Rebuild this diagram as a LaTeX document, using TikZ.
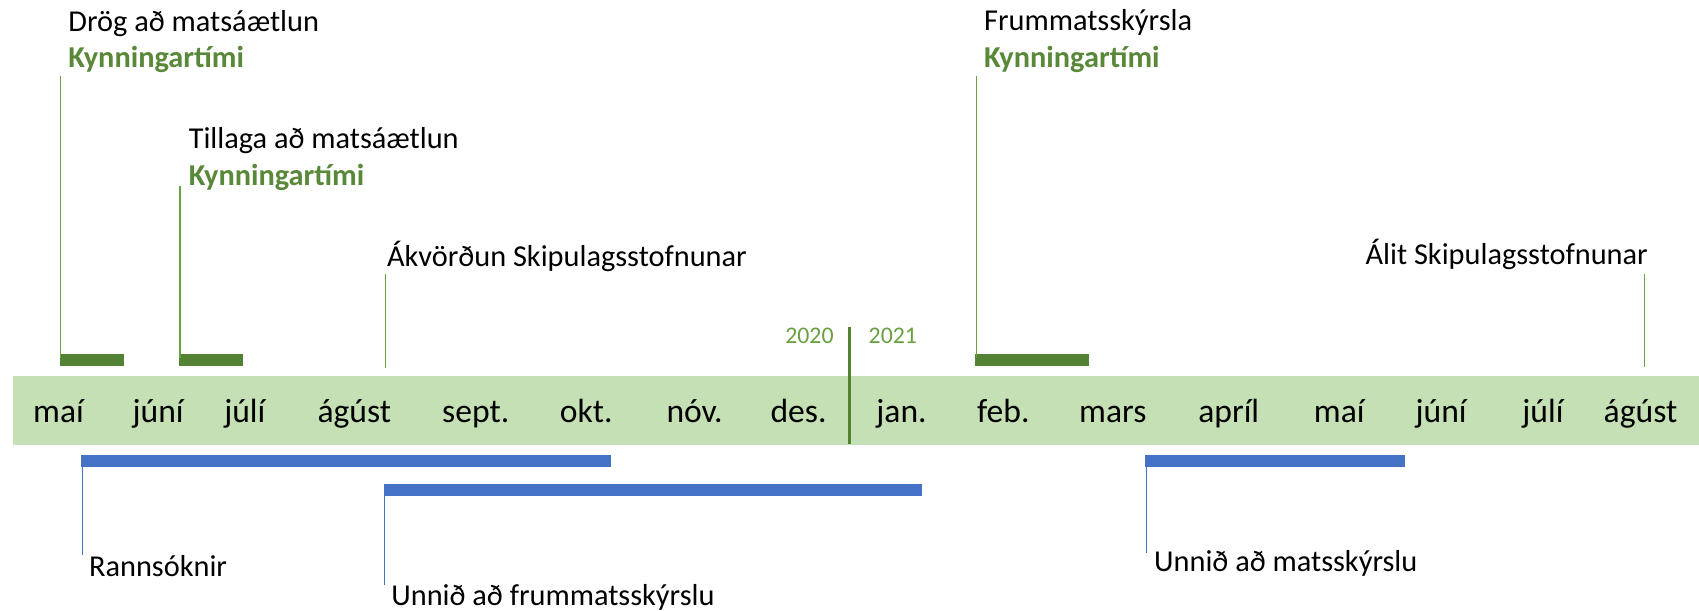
\documentclass[tikz,border=0pt]{standalone}
\usepackage{fontspec}
\setmainfont{Carlito}
\definecolor{band}{HTML}{C5E0B4}
\definecolor{dgreen}{HTML}{548235}
\definecolor{lgreen}{HTML}{70AD47}
\definecolor{blue1}{HTML}{4472C4}
\begin{document}
\begin{tikzpicture}[x=1pt,y=-1pt,
  lbl/.style={anchor=base west,inner sep=0pt,font=\fontsize{28}{30}\selectfont},
  kyn/.style={anchor=base west,inner sep=0pt,text=dgreen!85!lgreen,font=\fontsize{28}{30}\selectfont\bfseries},
  month/.style={anchor=base,inner sep=0pt,font=\fontsize{31}{33}\selectfont},
  year/.style={anchor=base,inner sep=0pt,text=lgreen!70!dgreen,font=\fontsize{22}{24}\selectfont},
  gline/.style={draw=lgreen!70!dgreen,line width=1.2pt},
  gbar/.style={fill=dgreen,draw=none},
  bline/.style={draw=blue1,line width=1.2pt},
  bbar/.style={fill=blue1,draw=none}]
\useasboundingbox (0,0) rectangle (1568,563);
% band
\fill[band] (12,347) rectangle (1568,411);
% months
\foreach \x/\m in {54/maí,146/júní,226/júlí,327/ágúst,439/sept.,541/okt.,641/nóv.,737/des.,832/jan.,926/feb.,1027/mars,1134/apríl,1236/maí,1330/júní,1424/júlí,1514/ágúst}
  \node[month] at (\x,390) {\m};
% year divider
\draw[dgreen,line width=2.5pt] (784,302) -- (784,410);
\node[year] (y0) at (747,317) {2020};
\node[year] (y1) at (824,317) {2021};
% green callouts
\node[lbl] (t1) at (63,29) {Drög að matsáætlun};
\node[kyn] (k1) at (63,62) {Kynningartími};
\fill[gbar] (55,327) rectangle (114,338);
\coordinate (a1) at (56,70); \coordinate (b1) at (56,330);
\draw[gline] (a1) -- (b1);

\node[lbl] (t2) at (174,137) {Tillaga að matsáætlun};
\node[kyn] (k2) at (174,171) {Kynningartími};
\fill[gbar] (165,327) rectangle (224,338);
\coordinate (a2) at (166,172); \coordinate (b2) at (166,330);
\draw[gline] (a2) -- (b2);

\node[lbl] (t3) at (357,246) {Ákvörðun Skipulagsstofnunar};
\coordinate (a3) at (356,253); \coordinate (b3) at (356,340);
\draw[gline] (a3) -- (b3);

\node[lbl] (t4) at (908,28) {Frummatsskýrsla};
\node[kyn] (k4) at (908,62) {Kynningartími};
\fill[gbar] (900,327) rectangle (1005,338);
\coordinate (a4) at (901,70); \coordinate (b4) at (901,330);
\draw[gline] (a4) -- (b4);

\node[lbl,anchor=base east] (t5) at (1521,244) {Álit Skipulagsstofnunar};
\coordinate (a5) at (1518,253); \coordinate (b5) at (1518,339);
\draw[gline] (a5) -- (b5);

% blue callouts
\fill[bbar] (75,420) rectangle (564,431);
\coordinate (c1) at (76,425); \coordinate (d1) at (76,512);
\draw[bline] (c1) -- (d1);
\node[lbl] (r1) at (82,532) {Rannsóknir};

\fill[bbar] (354,447) rectangle (851,458);
\coordinate (c2) at (355,452); \coordinate (d2) at (355,540);
\draw[bline] (c2) -- (d2);
\node[lbl] (r2) at (361,559) {Unnið að frummatsskýrslu};

\fill[bbar] (1057,420) rectangle (1297,431);
\coordinate (c3) at (1058,425); \coordinate (d3) at (1058,510);
\draw[bline] (c3) -- (d3);
\node[lbl] (r3) at (1065,527) {Unnið að matsskýrslu};
\end{tikzpicture}
\end{document}
